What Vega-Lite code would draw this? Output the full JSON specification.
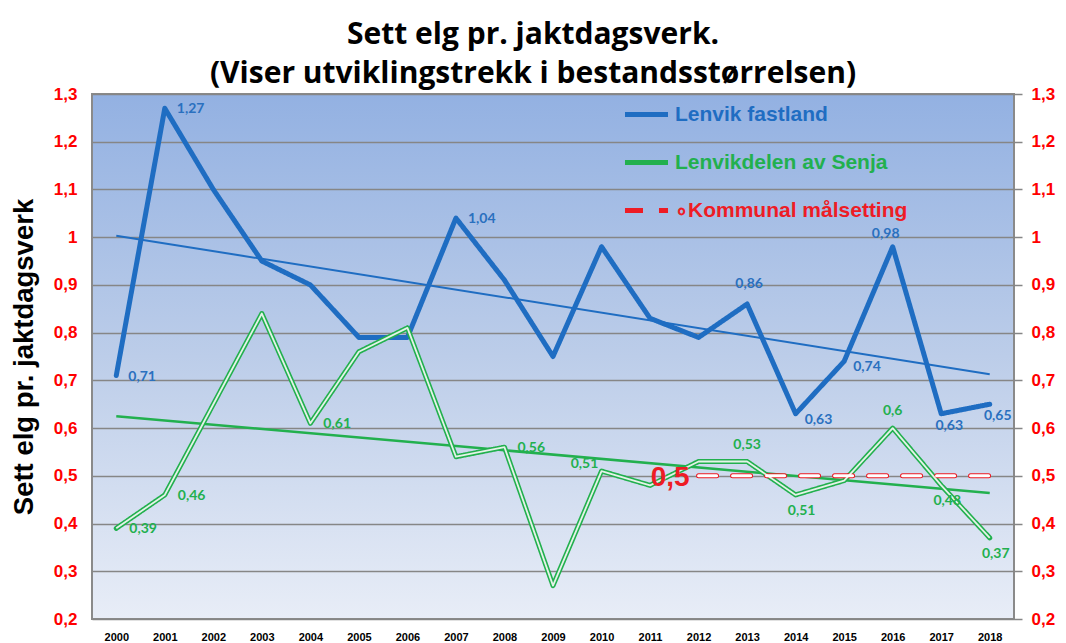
{
  "$schema": "https://vega.github.io/schema/vega-lite/v6.json",
  "width": 922,
  "height": 525,
  "autosize": {"type": "none"},
  "padding": {"left": 92, "top": 94, "right": 52, "bottom": 24},
  "background": "white",
  "title": {
    "text": ["Sett elg pr. jaktdagsverk.", "(Viser utviklingstrekk i bestandsstørrelsen)"],
    "font": "Open Sans", "fontSize": 30, "fontWeight": "bold", "color": "black",
    "anchor": "middle", "frame": "group", "dx": -20, "offset": -4, "lineHeight": 39
  },
  "datasets": {
    "series": [
      {"year": 2000, "series": "Lenvik fastland", "value": 0.71, "label": "0,71"},
      {"year": 2001, "series": "Lenvik fastland", "value": 1.27, "label": "1,27"},
      {"year": 2002, "series": "Lenvik fastland", "value": 1.10},
      {"year": 2003, "series": "Lenvik fastland", "value": 0.95},
      {"year": 2004, "series": "Lenvik fastland", "value": 0.90},
      {"year": 2005, "series": "Lenvik fastland", "value": 0.79},
      {"year": 2006, "series": "Lenvik fastland", "value": 0.79},
      {"year": 2007, "series": "Lenvik fastland", "value": 1.04, "label": "1,04"},
      {"year": 2008, "series": "Lenvik fastland", "value": 0.91},
      {"year": 2009, "series": "Lenvik fastland", "value": 0.75},
      {"year": 2010, "series": "Lenvik fastland", "value": 0.98},
      {"year": 2011, "series": "Lenvik fastland", "value": 0.83},
      {"year": 2012, "series": "Lenvik fastland", "value": 0.79},
      {"year": 2013, "series": "Lenvik fastland", "value": 0.86, "label": "0,86"},
      {"year": 2014, "series": "Lenvik fastland", "value": 0.63, "label": "0,63"},
      {"year": 2015, "series": "Lenvik fastland", "value": 0.74, "label": "0,74"},
      {"year": 2016, "series": "Lenvik fastland", "value": 0.98, "label": "0,98"},
      {"year": 2017, "series": "Lenvik fastland", "value": 0.63, "label": "0,63"},
      {"year": 2018, "series": "Lenvik fastland", "value": 0.65, "label": "0,65"},
      {"year": 2000, "series": "Lenvikdelen av Senja", "value": 0.39, "label": "0,39"},
      {"year": 2001, "series": "Lenvikdelen av Senja", "value": 0.46, "label": "0,46"},
      {"year": 2002, "series": "Lenvikdelen av Senja", "value": 0.65},
      {"year": 2003, "series": "Lenvikdelen av Senja", "value": 0.84},
      {"year": 2004, "series": "Lenvikdelen av Senja", "value": 0.61, "label": "0,61"},
      {"year": 2005, "series": "Lenvikdelen av Senja", "value": 0.76},
      {"year": 2006, "series": "Lenvikdelen av Senja", "value": 0.81},
      {"year": 2007, "series": "Lenvikdelen av Senja", "value": 0.54},
      {"year": 2008, "series": "Lenvikdelen av Senja", "value": 0.56, "label": "0,56"},
      {"year": 2009, "series": "Lenvikdelen av Senja", "value": 0.27},
      {"year": 2010, "series": "Lenvikdelen av Senja", "value": 0.51, "label": "0,51"},
      {"year": 2011, "series": "Lenvikdelen av Senja", "value": 0.48},
      {"year": 2012, "series": "Lenvikdelen av Senja", "value": 0.53},
      {"year": 2013, "series": "Lenvikdelen av Senja", "value": 0.53, "label": "0,53"},
      {"year": 2014, "series": "Lenvikdelen av Senja", "value": 0.46, "label": "0,51"},
      {"year": 2015, "series": "Lenvikdelen av Senja", "value": 0.49},
      {"year": 2016, "series": "Lenvikdelen av Senja", "value": 0.60, "label": "0,6"},
      {"year": 2017, "series": "Lenvikdelen av Senja", "value": 0.48, "label": "0,48"},
      {"year": 2018, "series": "Lenvikdelen av Senja", "value": 0.37, "label": "0,37"},
      {"year": 2012, "series": "Kommunal målsetting", "value": 0.5, "label": "0,5"},
      {"year": 2018, "series": "Kommunal målsetting", "value": 0.5}
    ],
    "trend": [
      {"year": 2000, "series": "Lenvik fastland", "value": 1.003},
      {"year": 2018, "series": "Lenvik fastland", "value": 0.713},
      {"year": 2000, "series": "Lenvikdelen av Senja", "value": 0.625},
      {"year": 2018, "series": "Lenvikdelen av Senja", "value": 0.464}
    ]
  },
  "encoding": {
    "x": {
      "field": "year", "type": "quantitative",
      "scale": {"domain": [1999.5, 2018.5], "nice": false, "zero": false},
      "axis": {
        "orient": "bottom", "title": null,
        "values": [2000,2001,2002,2003,2004,2005,2006,2007,2008,2009,2010,2011,2012,2013,2014,2015,2016,2017,2018],
        "format": "d", "grid": false, "ticks": false, "domain": false,
        "labelFont": "Liberation Sans", "labelFontSize": 11, "labelFontWeight": "bold",
        "labelColor": "black", "labelPadding": 12, "labelOverlap": false, "labelFlush": false
      }
    }
  },
  "layer": [
    {
      "data": {"name": "trend"},
      "transform": [{"filter": "datum.series == 'Lenvik fastland'"}],
      "mark": {"type": "line", "color": "#1f6dc2", "strokeWidth": 2},
      "encoding": {
        "y": {"field": "value", "type": "quantitative", "axis": null}
      }
    },
    {
      "data": {"name": "trend"},
      "transform": [{"filter": "datum.series == 'Lenvikdelen av Senja'"}],
      "mark": {"type": "line", "color": "#22b04e", "strokeWidth": 2.5},
      "encoding": {
        "y": {"field": "value", "type": "quantitative", "axis": null}
      }
    },
    {
      "data": {"name": "series"},
      "mark": {"type": "line", "strokeCap": "round", "strokeJoin": "round"},
      "encoding": {
        "y": {
          "field": "value", "type": "quantitative",
          "scale": {"domain": [0.2, 1.3], "nice": false, "zero": false},
          "axis": {
            "orient": "left",
            "values": [0.2,0.3,0.4,0.5,0.6,0.7,0.8,0.9,1,1.1,1.2,1.3],
            "labelExpr": "replace(format(datum.value, '~g'), '.', ',')",
            "grid": true, "gridColor": "#868686", "gridWidth": 1.5, "gridOpacity": 1,
            "ticks": false, "domain": false,
            "labelFont": "Liberation Sans", "labelFontSize": 17, "labelFontWeight": "bold",
            "labelColor": "#ff0000", "labelPadding": 15,
            "title": "Sett elg pr. jaktdagsverk",
            "titleFont": "Liberation Sans", "titleFontSize": 27.5, "titleFontWeight": "bold",
            "titleColor": "black", "titlePadding": 15
          }
        },
        "color": {
          "field": "series", "type": "nominal",
          "scale": {
            "domain": ["Lenvik fastland", "Lenvikdelen av Senja", "Kommunal målsetting"],
            "range": ["#1f6dc2", "#22b04e", "#ee1c25"]
          },
          "legend": {
            "orient": "none", "legendX": 530, "legendY": -4, "title": null,
            "symbolType": "stroke", "symbolSize": 1850, "symbolStrokeWidth": 5,
            "labelFont": "Liberation Sans", "labelFontSize": 21, "labelFontWeight": "bold",
            "rowPadding": 13, "labelOffset": 4, "labelLimit": 400,
            "labelExpr": "datum.label == 'Kommunal målsetting' ? '∘Kommunal målsetting' : datum.label",
            "encode": {"labels": {"update": {"fill": {"scale": "color", "field": "value"}}}}
          }
        },
        "strokeDash": {
          "field": "series", "type": "nominal",
          "scale": {
            "domain": ["Lenvik fastland", "Lenvikdelen av Senja", "Kommunal målsetting"],
            "range": [[1, 0], [1, 0], [18, 16]]
          },
          "legend": null
        },
        "strokeWidth": {
          "field": "series", "type": "nominal",
          "scale": {
            "domain": ["Lenvik fastland", "Lenvikdelen av Senja", "Kommunal målsetting"],
            "range": [5, 5, 7.5]
          },
          "legend": null
        }
      }
    },
    {
      "data": {"name": "series"},
      "transform": [{"filter": "datum.series == 'Lenvikdelen av Senja'"}],
      "mark": {"type": "line", "color": "#e4f3e8", "strokeWidth": 1.8, "strokeJoin": "round"},
      "encoding": {
        "y": {"field": "value", "type": "quantitative", "axis": null}
      }
    },
    {
      "data": {"name": "series"},
      "transform": [{"filter": "datum.series == 'Kommunal målsetting'"}],
      "mark": {"type": "line", "color": "#ffffff", "strokeWidth": 3, "strokeDash": [18, 16], "strokeCap": "round"},
      "encoding": {
        "y": {
          "field": "value", "type": "quantitative",
          "axis": {
            "orient": "right",
            "values": [0.2,0.3,0.4,0.5,0.6,0.7,0.8,0.9,1,1.1,1.2,1.3],
            "labelExpr": "replace(format(datum.value, '~g'), '.', ',')",
            "grid": false, "ticks": true, "tickSize": 8, "tickColor": "#868686", "tickWidth": 1.5,
            "domain": false, "title": null,
            "labelFont": "Liberation Sans", "labelFontSize": 17, "labelFontWeight": "bold",
            "labelColor": "#ff0000", "labelPadding": 9
          }
        }
      }
    },
    {
      "data": {"name": "series"},
      "transform": [{"filter": "datum.series == 'Kommunal målsetting' && isValid(datum.label)"}],
      "mark": {"type": "text", "align": "right", "baseline": "middle", "dx": -9, "dy": 2, "font": "Liberation Sans", "fontSize": 28, "fontWeight": "bold", "color": "#ee1c25"},
      "encoding": {
        "y": {"field": "value", "type": "quantitative", "axis": null},
        "text": {"field": "label"}
      }
    },
    {
      "data": {"name": "series"},
      "transform": [{"filter": "datum.series == 'Lenvik fastland' && indexof([2000, 2001, 2007], datum.year) >= 0"}],
      "mark": {"type": "text", "align": "left", "baseline": "middle", "dx": 12, "dy": 1, "font": "Lato", "fontSize": 14, "fontWeight": "bold", "color": "#2a70bf"},
      "encoding": {
        "y": {"field": "value", "type": "quantitative", "axis": null},
        "text": {"field": "label"}
      }
    },
    {
      "data": {"name": "series"},
      "transform": [{"filter": "datum.series == 'Lenvik fastland' && indexof([2014, 2015], datum.year) >= 0"}],
      "mark": {"type": "text", "align": "left", "baseline": "middle", "dx": 9, "dy": 6, "font": "Lato", "fontSize": 14, "fontWeight": "bold", "color": "#2a70bf"},
      "encoding": {
        "y": {"field": "value", "type": "quantitative", "axis": null},
        "text": {"field": "label"}
      }
    },
    {
      "data": {"name": "series"},
      "transform": [{"filter": "datum.series == 'Lenvik fastland' && datum.year == 2013"}],
      "mark": {"type": "text", "align": "center", "baseline": "middle", "dx": 2, "dy": -20, "font": "Lato", "fontSize": 14, "fontWeight": "bold", "color": "#2a70bf"},
      "encoding": {
        "y": {"field": "value", "type": "quantitative", "axis": null},
        "text": {"field": "label"}
      }
    },
    {
      "data": {"name": "series"},
      "transform": [{"filter": "datum.series == 'Lenvik fastland' && datum.year == 2016"}],
      "mark": {"type": "text", "align": "center", "baseline": "middle", "dx": -7, "dy": -13, "font": "Lato", "fontSize": 14, "fontWeight": "bold", "color": "#2a70bf"},
      "encoding": {
        "y": {"field": "value", "type": "quantitative", "axis": null},
        "text": {"field": "label"}
      }
    },
    {
      "data": {"name": "series"},
      "transform": [{"filter": "datum.series == 'Lenvik fastland' && indexof([2017, 2018], datum.year) >= 0"}],
      "mark": {"type": "text", "align": "center", "baseline": "middle", "dx": 8, "dy": 12, "font": "Lato", "fontSize": 14, "fontWeight": "bold", "color": "#2a70bf"},
      "encoding": {
        "y": {"field": "value", "type": "quantitative", "axis": null},
        "text": {"field": "label"}
      }
    },
    {
      "data": {"name": "series"},
      "transform": [{"filter": "datum.series == 'Lenvikdelen av Senja' && indexof([2000, 2001, 2004, 2008], datum.year) >= 0"}],
      "mark": {"type": "text", "align": "left", "baseline": "middle", "dx": 13, "dy": 1, "font": "Lato", "fontSize": 14, "fontWeight": "bold", "color": "#22b04e"},
      "encoding": {
        "y": {"field": "value", "type": "quantitative", "axis": null},
        "text": {"field": "label"}
      }
    },
    {
      "data": {"name": "series"},
      "transform": [{"filter": "datum.series == 'Lenvikdelen av Senja' && datum.year == 2010"}],
      "mark": {"type": "text", "align": "center", "baseline": "middle", "dx": -17, "dy": -7, "font": "Lato", "fontSize": 14, "fontWeight": "bold", "color": "#22b04e"},
      "encoding": {
        "y": {"field": "value", "type": "quantitative", "axis": null},
        "text": {"field": "label"}
      }
    },
    {
      "data": {"name": "series"},
      "transform": [{"filter": "datum.series == 'Lenvikdelen av Senja' && indexof([2013, 2016], datum.year) >= 0"}],
      "mark": {"type": "text", "align": "center", "baseline": "middle", "dx": 0, "dy": -17, "font": "Lato", "fontSize": 14, "fontWeight": "bold", "color": "#22b04e"},
      "encoding": {
        "y": {"field": "value", "type": "quantitative", "axis": null},
        "text": {"field": "label"}
      }
    },
    {
      "data": {"name": "series"},
      "transform": [{"filter": "datum.series == 'Lenvikdelen av Senja' && indexof([2014, 2017, 2018], datum.year) >= 0"}],
      "mark": {"type": "text", "align": "center", "baseline": "middle", "dx": 6, "dy": 16, "font": "Lato", "fontSize": 14, "fontWeight": "bold", "color": "#22b04e"},
      "encoding": {
        "y": {"field": "value", "type": "quantitative", "axis": null},
        "text": {"field": "label"}
      }
    }
  ],
  "resolve": {"axis": {"y": "independent"}},
  "config": {
    "view": {
      "fill": {
        "gradient": "linear", "x1": 0, "y1": 0, "x2": 0, "y2": 1,
        "stops": [
          {"offset": 0, "color": "#93b1e2"},
          {"offset": 0.5, "color": "#bccde9"},
          {"offset": 1, "color": "#e8edf7"}
        ]
      },
      "stroke": "#8a8a8a",
      "strokeWidth": 2
    }
  }
}
